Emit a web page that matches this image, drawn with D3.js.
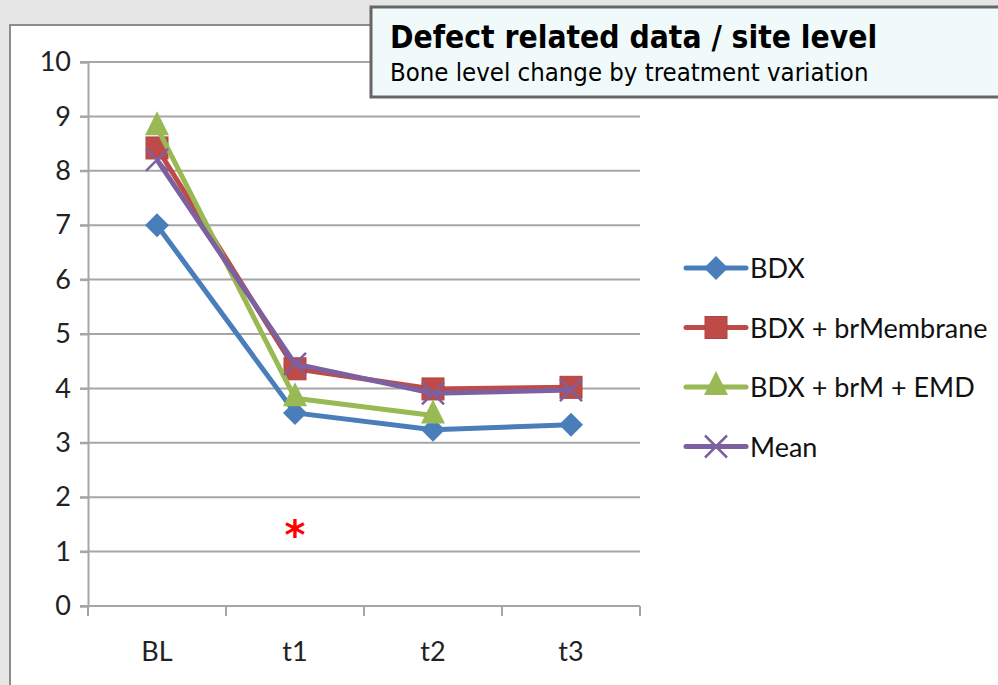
<!DOCTYPE html>
<html>
<head>
<script src="https://d3js.org/d3.v7.min.js"></script>
<style>
  body { margin: 0; background: #e6e6e6; }
</style>
</head>
<body>
<div id="chart"></div>
<script>

    // data
    var categories = ["BL", "t1", "t2", "t3"];
    var bdx = [7.0, 3.55, 3.24, 3.33];
    var bdxMembrane = [8.42, 4.36, 3.99, 4.02];
    var bdxEmd = [8.8, 3.82, 3.5, null];
    var meanValues = [8.2, 4.45, 3.91, 3.97];
    var seriesNames = ["BDX", "BDX + brMembrane", "BDX + brM + EMD", "Mean"];
    var yTicks = [0, 1, 2, 3, 4, 5, 6, 7, 8, 9, 10];

    var series = [
        { name: seriesNames[0], values: bdx, color: "#4a7ebb", marker: "diamond" },
        { name: seriesNames[1], values: bdxMembrane, color: "#be4b48", marker: "square" },
        { name: seriesNames[2], values: bdxEmd, color: "#98b954", marker: "triangle" },
        { name: seriesNames[3], values: meanValues, color: "#7d60a0", marker: "cross" }
    ];

    var W = 998, H = 685;
    var margin = { left: 88, top: 62, right: 358, bottom: 79 },
        width = W - margin.left - margin.right,
        height = H - margin.top - margin.bottom;

    var labelFont = "Lato, 'Open Sans', sans-serif";

    var root = d3.select("#chart").append("svg")
        .attr("width", W)
        .attr("height", H);

    // white chart panel
    root.append("rect")
        .attr("x", 10).attr("y", 25)
        .attr("width", W + 20).attr("height", H)
        .attr("fill", "#fff")
        .attr("stroke", "#8c8c8c")
        .attr("stroke-width", 2);

    var svg = root.append("g")
        .attr("transform", "translate(" + margin.left + "," + margin.top + ")");

    var x = d3.scaleBand().domain(categories).range([0, width]);
    var y = d3.scaleLinear().domain([0, 10]).range([height, 0]);

    // gridlines
    svg.append("g")
        .selectAll("line")
        .data(yTicks)
        .enter().append("line")
        .attr("x1", -8).attr("x2", width)
        .attr("y1", function (d) { return y(d); })
        .attr("y2", function (d) { return y(d); })
        .attr("stroke", "#a6a6a6")
        .attr("stroke-width", 2);

    // y axis
    var yAxis = svg.append("g")
        .call(d3.axisLeft(y).tickValues(yTicks).tickSize(8).tickPadding(9));
    yAxis.select(".domain").attr("stroke", "#a6a6a6").attr("stroke-width", 2);
    yAxis.selectAll(".tick line").attr("stroke", "#a6a6a6").attr("stroke-width", 2);
    yAxis.selectAll("text")
        .style("font-family", labelFont)
        .style("font-size", "27px")
        .attr("fill", "#222");

    // x axis: ticks on band edges, labels centred
    var xAxis = svg.append("g").attr("transform", "translate(0," + height + ")");
    xAxis.append("line")
        .attr("x1", 0).attr("x2", width)
        .attr("stroke", "#a6a6a6").attr("stroke-width", 2);
    xAxis.selectAll(".xt")
        .data(categories.concat(["end"]))
        .enter().append("line")
        .attr("x1", function (d, i) { return i < categories.length ? x(d) : width; })
        .attr("x2", function (d, i) { return i < categories.length ? x(d) : width; })
        .attr("y1", 0).attr("y2", 10)
        .attr("stroke", "#a6a6a6").attr("stroke-width", 2);
    xAxis.selectAll("text")
        .data(categories)
        .enter().append("text")
        .attr("x", function (d) { return x(d) + x.bandwidth() / 2; })
        .attr("y", 55)
        .attr("text-anchor", "middle")
        .style("font-family", labelFont)
        .style("font-size", "27px")
        .attr("fill", "#222")
        .text(function (d) { return d; });

    function cx(i) { return x(categories[i]) + x.bandwidth() / 2; }

    function drawMarker(g, type, px, py, color) {
        if (type === "diamond") {
            g.append("path")
                .attr("d", "M" + px + "," + (py - 12) + "L" + (px + 12) + "," + py +
                    "L" + px + "," + (py + 12) + "L" + (px - 12) + "," + py + "Z")
                .attr("fill", color);
        } else if (type === "square") {
            g.append("rect")
                .attr("x", px - 11).attr("y", py - 11)
                .attr("width", 22).attr("height", 22)
                .attr("fill", color)
                .attr("stroke", d3.color(color).darker(0.3))
                .attr("stroke-width", 1);
        } else if (type === "triangle") {
            g.append("path")
                .attr("d", "M" + px + "," + (py - 16) + "L" + (px + 12) + "," + (py + 8) +
                    "L" + (px - 12) + "," + (py + 8) + "Z")
                .attr("fill", color);
        } else {
            g.append("path")
                .attr("d", "M" + (px - 11) + "," + (py - 11) + "L" + (px + 11) + "," + (py + 11) +
                    "M" + (px + 11) + "," + (py - 11) + "L" + (px - 11) + "," + (py + 11))
                .attr("stroke", color)
                .attr("stroke-width", 2.5);
        }
    }

    var line = d3.line()
        .defined(function (d) { return d != null; })
        .x(function (d, i) { return cx(i); })
        .y(function (d) { return y(d); });

    series.forEach(function (s) {
        var g = svg.append("g");
        g.append("path")
            .datum(s.values)
            .attr("d", line)
            .attr("fill", "none")
            .attr("stroke", s.color)
            .attr("stroke-width", 5)
            .attr("stroke-linejoin", "round");
        s.values.forEach(function (v, i) {
            if (v != null) drawMarker(g, s.marker, cx(i), y(v), s.color);
        });
    });

    // significance asterisk under t1
    svg.append("text")
        .attr("x", cx(1))
        .attr("y", y(1.05))
        .attr("text-anchor", "middle")
        .style("font-family", "'DejaVu Sans', sans-serif")
        .style("font-size", "40px")
        .style("font-weight", "bold")
        .attr("fill", "#ff0000")
        .text("*");

    // legend
    var legend = root.append("g").attr("transform", "translate(686,268)");
    series.forEach(function (s, i) {
        var row = legend.append("g").attr("transform", "translate(0," + (i * 59.5) + ")");
        row.append("line")
            .attr("x1", 0).attr("x2", 60)
            .attr("stroke", s.color).attr("stroke-width", 5)
            .attr("stroke-linecap", "round");
        drawMarker(row, s.marker, 30, 0, s.color);
        row.append("text")
            .attr("x", 64).attr("y", 10)
            .style("font-family", labelFont)
            .style("font-size", "27px")
            .attr("fill", "#111")
            .text(s.name);
    });

    // title box
    var tb = root.append("g");
    tb.append("rect")
        .attr("x", 371).attr("y", 7)
        .attr("width", 700).attr("height", 90)
        .attr("fill", "#f1fafa")
        .attr("stroke", "#666")
        .attr("stroke-width", 3);
    tb.append("text")
        .attr("x", 390).attr("y", 48)
        .style("font-family", "'DejaVu Sans Condensed', 'DejaVu Sans', sans-serif")
        .style("font-size", "31.5px")
        .style("font-weight", "bold")
        .attr("fill", "#000")
        .text("Defect related data / site level");
    tb.append("text")
        .attr("x", 390).attr("y", 81)
        .style("font-family", "'DejaVu Sans Condensed', 'DejaVu Sans', sans-serif")
        .style("font-size", "25.5px")
        .attr("fill", "#000")
        .text("Bone level change by treatment variation");

</script>
</body>
</html>
